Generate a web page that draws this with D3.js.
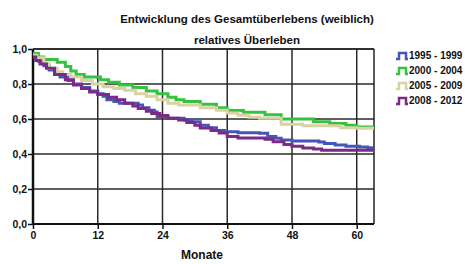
<!DOCTYPE html>
<html>
<head>
<meta charset="utf-8">
<script src="https://cdn.jsdelivr.net/npm/d3@7"></script>
<style>
  body { margin: 0; background: #fff; }
  text { font-family: Arial, "Liberation Sans", sans-serif; font-weight: bold; fill: #111; }
</style>
</head>
<body>
<svg id="chart"></svg>
<script>
const width = 465;
const height = 264;

const groups = ["1995 - 1999", "2000 - 2004", "2005 - 2009", "2008 - 2012"];
const colors = ["#4457b8", "#35c23f", "#d9d2a2", "#7b2a88"];

// months / survival
const months1995 = [0, 1, 2, 3, 4, 5, 6.5, 7.5, 9, 10.5, 12, 13, 13.7, 15, 16, 19.5, 20.3, 21.5, 22.5, 23, 25, 28, 29.5, 31, 32.5, 34, 35.5, 38, 42, 43.5, 45, 46, 48, 53, 54, 56, 58, 60.5, 62];
const surv1995 = [0.955, 0.93, 0.905, 0.88, 0.86, 0.84, 0.82, 0.80, 0.78, 0.76, 0.745, 0.73, 0.71, 0.70, 0.69, 0.68, 0.665, 0.65, 0.64, 0.615, 0.605, 0.595, 0.585, 0.565, 0.55, 0.535, 0.527, 0.522, 0.518, 0.50, 0.49, 0.48, 0.475, 0.468, 0.46, 0.451, 0.445, 0.44, 0.436];

const months2000 = [0, 1, 2, 4.5, 6, 7, 8, 9.5, 12.5, 14, 16, 18.5, 21, 23, 25, 26.5, 28, 31, 34, 36, 39, 43, 46, 52, 55, 58, 60];
const surv2000 = [0.975, 0.955, 0.94, 0.925, 0.90, 0.875, 0.855, 0.84, 0.825, 0.81, 0.795, 0.78, 0.76, 0.745, 0.725, 0.71, 0.70, 0.685, 0.665, 0.648, 0.638, 0.625, 0.60, 0.585, 0.575, 0.565, 0.555];

const months2005 = [0, 0.7, 2, 3, 4.5, 5.5, 7, 9, 11, 13, 15, 17, 19, 21, 23, 25, 27, 31, 34, 36, 38, 40, 42, 46, 50, 57, 60];
const surv2005 = [0.965, 0.95, 0.92, 0.89, 0.87, 0.855, 0.84, 0.82, 0.80, 0.785, 0.775, 0.765, 0.745, 0.73, 0.71, 0.69, 0.68, 0.665, 0.65, 0.635, 0.622, 0.61, 0.605, 0.57, 0.562, 0.55, 0.547];

const months2008 = [0, 0.5, 1.3, 2.5, 4, 6, 7.5, 9, 10.5, 12, 14, 15.5, 17, 18.5, 19.5, 21, 22, 23.5, 25, 27, 28.5, 30, 31, 33, 34.5, 36, 38, 43, 44.5, 46.5, 48, 50, 52, 53.5];
const surv2008 = [0.955, 0.935, 0.915, 0.89, 0.855, 0.825, 0.795, 0.775, 0.755, 0.74, 0.725, 0.71, 0.69, 0.675, 0.66, 0.645, 0.632, 0.62, 0.605, 0.595, 0.58, 0.565, 0.548, 0.535, 0.52, 0.50, 0.492, 0.485, 0.47, 0.455, 0.445, 0.435, 0.428, 0.422];

const xTicks = [0, 12, 24, 36, 48, 60];
const yTicks = [0, 0.2, 0.4, 0.6, 0.8, 1.0];
const maxMonth = 63.2;

const series = [
  [months1995, surv1995],
  [months2000, surv2000],
  [months2005, surv2005],
  [months2008, surv2008]
].map(([m, s]) => {
  let pts = m.map((d, i) => ({ t: d, s: s[i] }));
  pts.push({ t: maxMonth, s: s[s.length - 1] });
  return pts;
});

const svg = d3.select("#chart")
  .attr("width", width)
  .attr("height", height);

const xScale = d3.scaleLinear().domain([0, maxMonth]).range([33, 374]);
const yScale = d3.scaleLinear().domain([0, 1]).range([224, 49]);

// grid
svg.append("g")
  .selectAll("line")
  .data(yTicks.slice(1))
  .enter()
  .append("line")
  .attr("x1", 33).attr("x2", 374)
  .attr("y1", d => yScale(d)).attr("y2", d => yScale(d))
  .attr("stroke", "#2a2a2a").attr("stroke-width", 1.5);

svg.append("g")
  .selectAll("line")
  .data(xTicks.slice(1))
  .enter()
  .append("line")
  .attr("x1", d => xScale(d)).attr("x2", d => xScale(d))
  .attr("y1", 49).attr("y2", 224)
  .attr("stroke", "#2a2a2a").attr("stroke-width", 1.5);

// right frame
svg.append("line")
  .attr("x1", 374).attr("x2", 374).attr("y1", 49).attr("y2", 224)
  .attr("stroke", "#222").attr("stroke-width", 1.5);

// axes
const xAxis = d3.axisBottom(xScale).tickValues(xTicks).tickSize(5).tickFormat(d3.format("d"));
const yAxis = d3.axisLeft(yScale).tickValues(yTicks).tickSize(5).tickFormat(d => d.toFixed(1).replace(".", ","));

const gx = svg.append("g")
  .attr("transform", "translate(0,224)")
  .call(xAxis);
gx.select(".domain").attr("d", "M33,0H374").attr("stroke", "#111").attr("stroke-width", 2);
gx.selectAll(".tick line").attr("stroke", "#111").attr("stroke-width", 1.5);
gx.selectAll(".tick text").attr("dy", "0.71em").attr("y", 8)
  .style("font-size", "10.5px").style("font-family", "Arial, 'Liberation Sans', sans-serif").style("font-weight", "bold");

const gy = svg.append("g")
  .attr("transform", "translate(33,0)")
  .call(yAxis);
gy.select(".domain").attr("d", "M0,49V224").attr("stroke", "#111").attr("stroke-width", 2.5);
gy.selectAll(".tick line").attr("stroke", "#111").attr("stroke-width", 1.5);
gy.selectAll(".tick text").attr("x", -6)
  .style("font-size", "10.5px").style("font-family", "Arial, 'Liberation Sans', sans-serif").style("font-weight", "bold");

// curves
const line = d3.line()
  .x(d => xScale(d.t))
  .y(d => yScale(d.s))
  .curve(d3.curveStepAfter);

svg.append("g")
  .selectAll("path")
  .data(series)
  .enter()
  .append("path")
  .attr("d", line)
  .attr("fill", "none")
  .attr("stroke", (d, i) => colors[i])
  .attr("stroke-width", 3);

// top frame
svg.append("line")
  .attr("x1", 33).attr("x2", 374).attr("y1", 49).attr("y2", 49)
  .attr("stroke", "#222").attr("stroke-width", 1.5);

// titles
svg.append("text")
  .attr("x", 247).attr("y", 23)
  .attr("text-anchor", "middle")
  .style("font-size", "11.5px")
  .text("Entwicklung des Gesamtüberlebens (weiblich)");

svg.append("text")
  .attr("x", 247).attr("y", 44)
  .attr("text-anchor", "middle")
  .style("font-size", "11.5px")
  .text("relatives Überleben");

svg.append("text")
  .attr("x", 202).attr("y", 259)
  .attr("text-anchor", "middle")
  .style("font-size", "12px")
  .text("Monate");

// legend
const legend = svg.append("g")
  .selectAll("g")
  .data(groups)
  .enter()
  .append("g")
  .attr("transform", (d, i) => `translate(396, ${55 + i * 15})`);

legend.append("path")
  .attr("d", "M0,4 h3 v-6 h7 v6 h2")
  .attr("fill", "none")
  .attr("stroke", (d, i) => colors[i])
  .attr("stroke-width", 2.5);

legend.append("text")
  .attr("x", 13).attr("y", 4)
  .style("font-size", "10px")
  .text(d => d);
</script>
</body>
</html>
